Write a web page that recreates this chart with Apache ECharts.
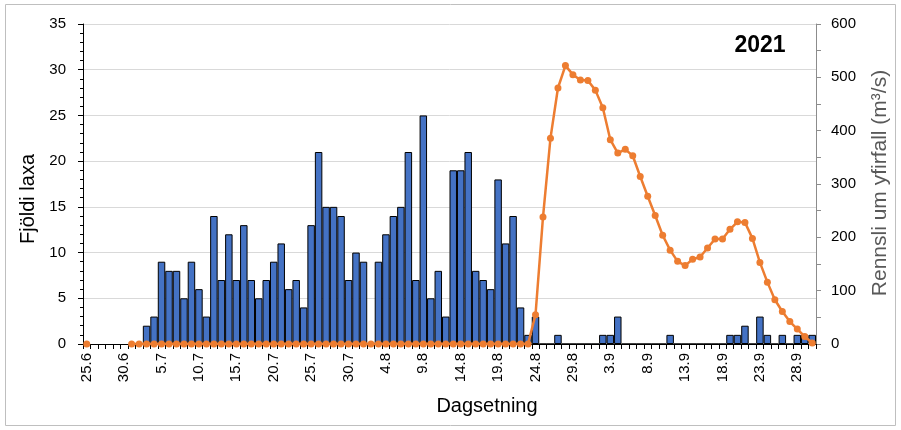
<!DOCTYPE html>
<html>
<head>
<meta charset="utf-8">
<script src="https://cdn.jsdelivr.net/npm/echarts@6/dist/echarts.min.js"></script>
<style>
  html, body { margin: 0; padding: 0; background: #ffffff; }
  #chart { width: 901px; height: 430px; }
</style>
</head>
<body>
<div id="chart"></div>
<script>
// Daily dates (day.month), 25 June to 30 September
const dates = [
  '25.6','26.6','27.6','28.6','29.6','30.6',
  '1.7','2.7','3.7','4.7','5.7','6.7','7.7','8.7','9.7','10.7',
  '11.7','12.7','13.7','14.7','15.7','16.7','17.7','18.7','19.7','20.7',
  '21.7','22.7','23.7','24.7','25.7','26.7','27.7','28.7','29.7','30.7','31.7',
  '1.8','2.8','3.8','4.8','5.8','6.8','7.8','8.8','9.8','10.8',
  '11.8','12.8','13.8','14.8','15.8','16.8','17.8','18.8','19.8','20.8',
  '21.8','22.8','23.8','24.8','25.8','26.8','27.8','28.8','29.8','30.8','31.8',
  '1.9','2.9','3.9','4.9','5.9','6.9','7.9','8.9','9.9','10.9',
  '11.9','12.9','13.9','14.9','15.9','16.9','17.9','18.9','19.9','20.9',
  '21.9','22.9','23.9','24.9','25.9','26.9','27.9','28.9','29.9','30.9'
];

// Number of salmon counted per day (left axis)
const salmonCount = [
  null, null, null, null, null, null, null, null, 2, 3,
  9, 8, 8, 5, 9, 6, 3, 14, 7, 12,
  7, 13, 7, 5, 7, 9, 11, 6, 7, 4,
  13, 21, 15, 15, 14, 7, 10, 9, 0, 9,
  12, 14, 15, 21, 7, 25, 5, 8, 3, 19,
  19, 21, 8, 7, 6, 18, 11, 14, 4, 1,
  3, 0, 0, 1, 0, 0, 0, 0, 0, 1,
  1, 3, 0, 0, 0, 0, 0, 0, 1, 0,
  0, 0, 0, 0, 0, 0, 1, 1, 2, 0,
  3, 1, 0, 1, 0, 1, 1, 1
];

// Spillway overflow discharge, m3/s (right axis)
const overflow = [
  0, null, null, null, null, null, 0, 0, 0, 0,
  0, 0, 0, 0, 0, 0, 0, 0, 0, 0,
  0, 0, 0, 0, 0, 0, 0, 0, 0, 0,
  0, 0, 0, 0, 0, 0, 0, 0, 0, 0,
  0, 0, 0, 0, 0, 0, 0, 0, 0, 0,
  0, 0, 0, 0, 0, 0, 0, 0, 0, 0,
  55, 238, 386, 480, 522, 505, 495, 494, 476, 443,
  383, 358, 365, 353, 314, 277, 241, 204, 176, 155,
  147, 159, 163, 180, 197, 197, 215, 229, 228, 198,
  153, 116, 83, 61, 42, 28, 14, 2
];

const countTicks = [0, 35, 5];     // min, max, step
const flowTicks = [0, 600, 100];   // min, max, step

const FONT = '"Liberation Sans", Arial, sans-serif';

const chart = echarts.init(document.getElementById('chart'), null, { renderer: 'canvas' });

chart.setOption({
  animation: false,
  backgroundColor: '#ffffff',
  textStyle: { fontFamily: FONT },
  grid: { left: 83, right: 85, top: 24, bottom: 86, containLabel: false },
  xAxis: {
    type: 'category',
    data: dates,
    boundaryGap: true,
    axisLine: { show: true, lineStyle: { color: '#000000', width: 1 } },
    axisTick: { show: true, interval: 0, length: 5, lineStyle: { color: '#000000' } },
    axisLabel: {
      interval: 4, rotate: 90, margin: 9,
      color: '#000000', fontSize: 15, fontFamily: FONT
    },
    splitLine: { show: false }
  },
  yAxis: [
    {
      type: 'value',
      min: countTicks[0], max: countTicks[1], interval: countTicks[2],
      axisLine: { show: true, lineStyle: { color: '#000000', width: 1 } },
      axisTick: { show: true, length: 5, lineStyle: { color: '#000000' } },
      minorTick: { show: true, splitNumber: 5, length: 3, lineStyle: { color: '#000000' } },
      axisLabel: { margin: 17, color: '#000000', fontSize: 15, fontFamily: FONT },
      splitLine: { show: true, lineStyle: { color: '#d9d9d9', width: 1 } }
    },
    {
      type: 'value',
      position: 'right',
      min: flowTicks[0], max: flowTicks[1], interval: flowTicks[2],
      axisLine: { show: true, lineStyle: { color: '#8c8c8c', width: 1 } },
      axisTick: { show: true, length: 5, lineStyle: { color: '#8c8c8c' } },
      minorTick: { show: true, splitNumber: 2, length: 5, lineStyle: { color: '#8c8c8c' } },
      axisLabel: { margin: 15, color: '#000000', fontSize: 15, fontFamily: FONT },
      splitLine: { show: false }
    }
  ],
  series: [
    {
      name: 'Fjöldi laxa',
      type: 'bar',
      yAxisIndex: 0,
      data: salmonCount,
      barCategoryGap: '0%',
      itemStyle: { color: '#4472c4', borderColor: '#000000', borderWidth: 1 },
      z: 2
    },
    {
      name: 'Rennsli um yfirfall',
      type: 'line',
      yAxisIndex: 1,
      data: overflow,
      connectNulls: false,
      symbol: 'circle',
      symbolSize: 7,
      showAllSymbol: true,
      lineStyle: { color: '#ed7d31', width: 2.5 },
      itemStyle: { color: '#ed7d31' },
      z: 5
    }
  ],
  graphic: [
    {
      type: 'rect', silent: true, z: -1,
      shape: { x: 5.5, y: 4.5, width: 890, height: 421 },
      style: { fill: 'none', stroke: '#bfbfbf', lineWidth: 1 }
    },
    {
      type: 'text', x: 760, y: 46,
      style: {
        text: '2021', fill: '#000000', fontFamily: FONT,
        fontSize: 23, fontWeight: 'bold', textAlign: 'center', textVerticalAlign: 'middle'
      }
    },
    {
      type: 'text', x: 28, y: 199, rotation: Math.PI / 2,
      style: {
        text: 'Fjöldi laxa', fill: '#000000', fontFamily: FONT,
        fontSize: 20, textAlign: 'center', textVerticalAlign: 'middle'
      }
    },
    {
      type: 'text', x: 880, y: 183, rotation: Math.PI / 2,
      style: {
        text: 'Rennsli um yfirfall (m³/s)', fill: '#595959', fontFamily: FONT,
        fontSize: 21, textAlign: 'center', textVerticalAlign: 'middle'
      }
    },
    {
      type: 'text', x: 487, y: 406,
      style: {
        text: 'Dagsetning', fill: '#000000', fontFamily: FONT,
        fontSize: 20, textAlign: 'center', textVerticalAlign: 'middle'
      }
    }
  ]
});
</script>
</body>
</html>
